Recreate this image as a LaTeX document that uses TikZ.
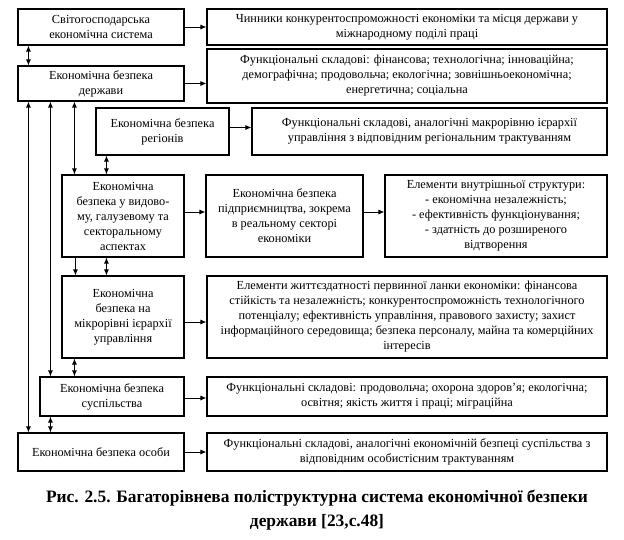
\documentclass[tikz,border=0pt]{standalone}
\usepackage{fontspec}
\setmainfont{Liberation Serif}
\usetikzlibrary{arrows.meta}
\tikzset{
  box/.style={draw, line width=1.1pt, align=center, inner sep=1pt,
    font=\fontsize{12.3}{15}\selectfont},
  arr/.style={line width=0.9pt, -{Latex[length=6pt,width=5pt]}},
  darr/.style={line width=0.9pt, {Latex[length=6pt,width=5pt]}-{Latex[length=6pt,width=5pt]}},
}
\begin{document}
\begin{tikzpicture}[x=1pt,y=-1pt]
\useasboundingbox (0,0) rectangle (624,539);
% left column
\node[box, minimum width=166pt, minimum height=36pt] (b1) at (101,27) {Світогосподарська\\економічна система};
\node[box, minimum width=166pt, minimum height=35pt] (b2) at (101,83.5) {Економічна безпека\\держави};
\node[box, minimum width=133pt, minimum height=47pt] (b3) at (162.5,131.5) {Економічна безпека\\регіонів};
\node[box, minimum width=122pt, minimum height=82pt] (b4) at (123,216) {Економічна\\безпека у видово-\\му, галузевому та\\секторальному\\аспектах};
\node[box, minimum width=122pt, minimum height=82pt] (b5) at (123,317) {Економічна\\безпека на\\мікрорівні ієрархії\\управління};
\node[box, minimum width=144pt, minimum height=39pt] (b6) at (112,396.5) {Економічна безпека\\суспільства};
\node[box, minimum width=166pt, minimum height=38pt] (b7) at (101,452) {Економічна безпека особи};
% right column
\node[box, minimum width=400pt, minimum height=36pt] (r1) at (407,27) {Чинники конкурентоспроможності економіки та місця держави у\\міжнародному поділі праці};
\node[box, minimum width=400pt, minimum height=54pt] (r2) at (407,76) {Функціональні складові: фінансова; технологічна; інноваційна;\\демографічна; продовольча; екологічна; зовнішньоекономічна;\\енергетична; соціальна};
\node[box, minimum width=355pt, minimum height=47pt] (r3) at (429.5,131.5) {Функціональні складові, аналогічні макрорівню ієрархії\\управління з відповідним регіональним трактуванням};
\node[box, minimum width=157pt, minimum height=82pt] (r4) at (284.5,216) {Економічна безпека\\підприємництва, зокрема\\в реальному секторі\\економіки};
\node[box, minimum width=222pt, minimum height=82pt] (r5) at (496,216) {Елементи внутрішньої структури:\\- економічна незалежність;\\- ефективність функціонування;\\- здатність до розширеного\\відтворення};
\node[box, minimum width=400pt, minimum height=82pt] (r6) at (407,317) {Елементи життєздатності первинної ланки економіки: фінансова\\стійкість та незалежність; конкурентоспроможність технологічного\\потенціалу; ефективність управління, правового захисту; захист\\інформаційного середовища; безпека персоналу, майна та комерційних\\інтересів};
\node[box, minimum width=400pt, minimum height=39pt] (r7) at (407,396.5) {Функціональні складові: продовольча; охорона здоров’я; екологічна;\\освітня; якість життя і праці; міграційна};
\node[box, minimum width=400pt, minimum height=38pt] (r8) at (407,452) {Функціональні складові, аналогічні економічній безпеці суспільства з\\відповідним особистісним трактуванням};
% caption
\node[align=center, font=\bfseries\fontsize{17.4}{24}\selectfont] (cap) at (317,510) {Рис. 2.5. Багаторівнева поліструктурна система економічної безпеки\\держави [23,с.48]};
% horizontal arrows
\draw[arr] (b1.east) -- (b1.east -| r1.west);
\draw[arr] (b2.east) -- (b2.east -| r2.west);
\draw[arr] ([yshift=4pt]b3.east) -- ([yshift=4pt]b3.east -| r3.west);
\draw[arr] ([yshift=4pt]b4.east) -- ([yshift=4pt]b4.east -| r4.west);
\draw[arr] ([yshift=4pt]r4.east) -- ([yshift=4pt]r4.east -| r5.west);
\draw[arr] ([yshift=-5pt]b5.east) -- ([yshift=-5pt]b5.east -| r6.west);
\draw[arr] ([yshift=-1.5pt]b6.east) -- ([yshift=-1.5pt]b6.east -| r7.west);
\draw[arr] (b7.east) -- (b7.east -| r8.west);
% vertical arrows
\draw[darr] ([xshift=11pt]b1.south west) -- ([xshift=11pt]b1.south west |- b2.north);
\draw[darr] ([xshift=11pt]b2.south west) -- ([xshift=11pt]b2.south west |- b7.north);
\draw[darr] ([xshift=33pt]b2.south west) -- ([xshift=33pt]b2.south west |- b6.north);
\draw[darr] ([xshift=57pt]b2.south west) -- ([xshift=57pt]b2.south west |- b4.north);
\draw[darr] ([xshift=45pt]b4.north west) -- ([xshift=45pt]b4.north west |- b3.south);
\draw[arr] ([xshift=14pt]b4.south west) -- ([xshift=14pt]b4.south west |- b5.north);
\draw[darr] ([xshift=45pt]b4.south west) -- ([xshift=45pt]b4.south west |- b5.north);
\draw[darr] ([xshift=13pt]b5.south west) -- ([xshift=13pt]b5.south west |- b6.north);
\draw[darr] ([xshift=11pt]b6.south west) -- ([xshift=11pt]b6.south west |- b7.north);
\end{tikzpicture}
\end{document}
